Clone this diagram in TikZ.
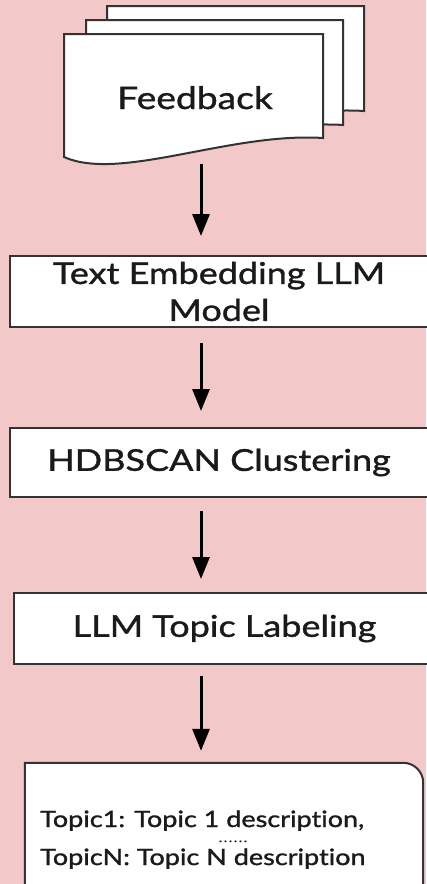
\documentclass[tikz,border=0pt]{standalone}
\usepackage{fontspec}
\setmainfont[FakeStretch=1.2,FakeBold=1.2,Ligatures={NoCommon}]{Lato}
\usetikzlibrary{arrows.meta}
\definecolor{bg}{HTML}{F3C8C8}
\definecolor{edgec}{HTML}{333333}
\definecolor{txt}{HTML}{1A1A1A}
\begin{document}
\begin{tikzpicture}[x=1pt,y=-1pt,
  sheet/.style={fill=white,draw=edgec,line width=2pt,line join=miter},
  stepbox/.style={draw=edgec,fill=white,line width=2pt,rectangle,inner sep=0pt,text=txt,align=center},
  arr/.style={draw=black,line width=3pt,-{Triangle[width=17pt,length=22pt]}},
  lbl/.style={text=txt,inner sep=0pt}]
\useasboundingbox (0,0) rectangle (426,884);
\fill[bg] (0,0) rectangle (426,884);
% feedback multi-document
\path[sheet] (107,6) -- (364,6) -- (364,111) .. controls (271,105) and (163,154) .. (107,129) -- cycle;
\path[sheet] (86,20) -- (343,20) -- (343,125) .. controls (250,119) and (142,168) .. (86,143) -- cycle;
\path[sheet] (64,34) -- (323,34) -- (323,138) .. controls (230,132) and (120,182) .. (64,157) -- cycle;
\node[lbl,anchor=base,font=\fontsize{31}{36}\selectfont] (fb) at (195,109) {Feedback};
\coordinate (fbbot) at (201,164);
% boxes
\node[stepbox,minimum width=418pt,minimum height=71pt,font=\fontsize{30}{37}\selectfont] (b1) at (219,291.5) {Text Embedding LLM\\Model};
\node[stepbox,minimum width=418pt,minimum height=69pt,font=\fontsize{30}{36}\selectfont] (b2) at (219,462.5) {HDBSCAN Clustering};
\node[stepbox,minimum width=421pt,minimum height=71pt,font=\fontsize{30}{36}\selectfont] (b3) at (224.5,628.5) {LLM Topic Labeling};
% output box
\node[inner sep=0pt,minimum width=398pt,minimum height=150pt] (out) at (224,838) {};
\path[fill=white,draw=edgec,line width=2pt] (out.south west) -- (out.north west) -- ([xshift=-20pt]out.north east) arc[start angle=90,end angle=0,radius=20pt] -- (out.south east);
\node[lbl,anchor=base west,font=\fontsize{22.5}{26}\selectfont] (t1) at (40,827) {Topic1: Topic 1 description,};
\node[lbl,anchor=base,font=\fontsize{12}{12}\selectfont] (dots) at (233,842) {.\hspace{1.6pt}.\hspace{1.6pt}.\hspace{1.6pt}.\hspace{1.6pt}.\hspace{1.6pt}.};
\node[lbl,anchor=base west,font=\fontsize{22.5}{26}\selectfont] (tn) at (40,865) {TopicN: Topic N description};
% arrows
\path (b1.north) ++(-18,-19) coordinate (a1e);
\draw[arr] (fbbot) -- (a1e);
\path (b1.south) ++(-18,15) coordinate (a2s);
\path (b2.north) ++(-18,-16) coordinate (a2e);
\draw[arr] (a2s) -- (a2e);
\path (b2.south) ++(-18,13) coordinate (a3s);
\path (b3.north) ++(-23.5,-13) coordinate (a3e);
\draw[arr] (a3s) -- (a3e);
\path (b3.south) ++(-23.5,11) coordinate (a4s);
\path (out.north) ++(-23,-12) coordinate (a4e);
\draw[arr] (a4s) -- (a4e);
\end{tikzpicture}
\end{document}
